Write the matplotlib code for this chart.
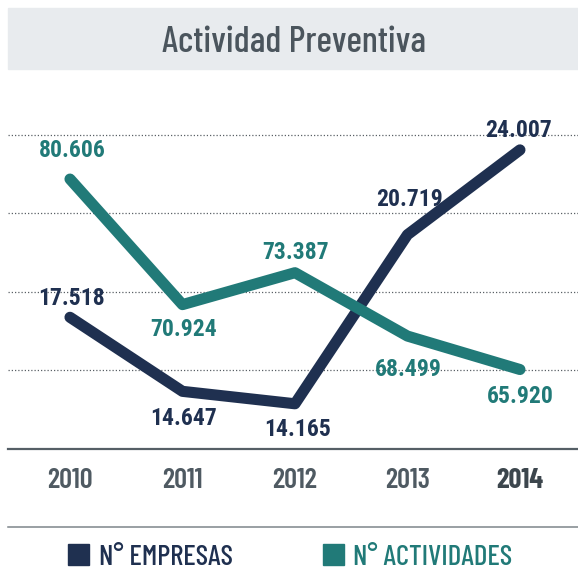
import matplotlib
matplotlib.use("Agg")
import matplotlib.pyplot as plt
from matplotlib.patches import Rectangle
from matplotlib.lines import Line2D

plt.rcParams['font.family'] = ['Barlow Condensed', 'DejaVu Sans']

# datos
anios = ["2010", "2011", "2012", "2013", "2014"]
empresas = [17518, 14647, 14165, 20719, 24007]
actividades = [80606, 70924, 73387, 68499, 65920]
etiq_empresas = ["17.518", "14.647", "14.165", "20.719", "24.007"]
etiq_actividades = ["80.606", "70.924", "73.387", "68.499", "65.920"]

NAVY = "#1f3050"
TEAL = "#217a78"
GRIS = "#4f5a62"
FUENTE_NUM = ['Roboto Condensed', 'DejaVu Sans']

W, H = 578, 571
fig = plt.figure(figsize=(W / 100, H / 100), dpi=100)

# banda del titulo
fig.patches.append(Rectangle((8 / W, 1 - 69 / H), 570 / W, 61 / H,
                             transform=fig.transFigure, color="#e8ebee", zorder=0))
fig.text(294 / W, 1 - 52 / H, "Actividad Preventiva", ha="center", va="baseline",
         fontsize=26.5, fontweight=500, color="#4b555d")

ax = fig.add_axes([8 / W, 1 - 449 / H, 570 / W, 374 / H])
ax2 = ax.twinx()
x = list(range(len(anios)))

for f in [0.8396, 0.631, 0.4198, 0.2112]:
    ax.plot([0, 1], [f, f], transform=ax.transAxes, color="#5a6066",
            linestyle=(0, (1, 1.6)), linewidth=0.9, zorder=1)

ax.plot(x, empresas, color=NAVY, linewidth=8, solid_capstyle="round",
        solid_joinstyle="round", zorder=3)
ax2.plot(x, actividades, color=TEAL, linewidth=8, solid_capstyle="round",
         solid_joinstyle="round", zorder=3)

ax.set_xlim(-0.551, 4.516)
ax.set_ylim(12412, 26910)
ax2.set_ylim(59791, 88631)

off_emp = [(2, 12), (1, -34), (3, -32), (2, 29), (-1, 13)]
off_act = [(2, 22), (1, -31), (1, 14), (1, -40), (0, -33)]
for i in x:
    ax.annotate(etiq_empresas[i], (i, empresas[i]), xytext=off_emp[i],
                textcoords="offset pixels", ha="center", va="baseline",
                fontsize=17, fontweight="bold", color=NAVY, family=FUENTE_NUM)
    ax2.annotate(etiq_actividades[i], (i, actividades[i]), xytext=off_act[i],
                 textcoords="offset pixels", ha="center", va="baseline",
                 fontsize=17, fontweight="bold", color=TEAL, family=FUENTE_NUM)

for a in (ax, ax2):
    for s in ["top", "left", "right"]:
        a.spines[s].set_visible(False)
    a.set_yticks([])
    a.patch.set_visible(False)
ax2.spines["bottom"].set_visible(False)
ax.spines["bottom"].set_color("#555f66")
ax.spines["bottom"].set_linewidth(1.6)

ax.set_xticks(x)
ax.set_xticklabels(anios, fontsize=20.5, fontweight=600, color=GRIS)
ax.get_xticklabels()[-1].set_fontweight("bold")
ax.get_xticklabels()[-1].set_color("#3c464d")
ax.tick_params(axis="x", length=0, pad=14)

# linea inferior y leyenda
fig.add_artist(Line2D([8 / W, 1], [1 - 527 / H, 1 - 527 / H], color="#7d858a",
                      linewidth=1.1, transform=fig.transFigure))
for x0, col, txt, tx in [(68, NAVY, "N° EMPRESAS", 99), (323, TEAL, "N° ACTIVIDADES", 353)]:
    fig.patches.append(Rectangle((x0 / W, 1 - 565 / H), 21 / W, 21 / H,
                                 transform=fig.transFigure, color=col))
    fig.text(tx / W, 1 - 565 / H, txt, ha="left", va="baseline", fontsize=20.8,
             fontweight=500, color=col)

fig.savefig("out.png", dpi=100)
